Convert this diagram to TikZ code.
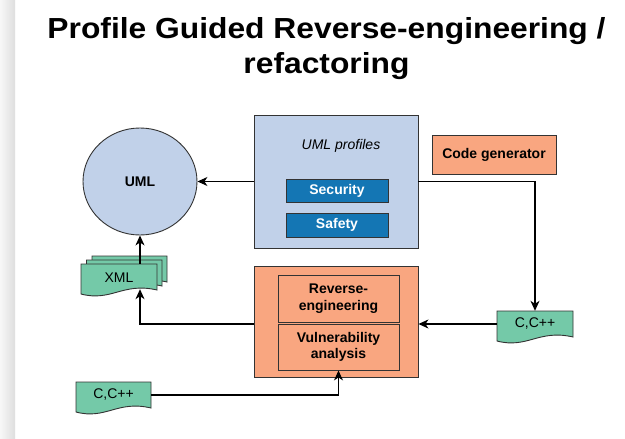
\documentclass[tikz,border=0pt]{standalone}
\usepackage{fontspec}
\setmainfont{Liberation Sans}
\usetikzlibrary{arrows.meta,shapes.geometric,calc}
\definecolor{lblue}{RGB}{193,209,233}
\definecolor{dblue}{RGB}{20,118,180}
\definecolor{salmon}{RGB}{249,166,128}
\definecolor{dgreen}{RGB}{116,201,168}
\definecolor{bord}{RGB}{51,51,51}
\newcommand{\docshape}[5]{% x y w h fill
  \filldraw[fill=#5,draw=bord,line width=0.9pt]
    (#1,#2) -- ({#1+#3},#2) -- ({#1+#3},{#2+#4-5})
    .. controls ({#1+0.55*#3},{#2+#4-13}) and ({#1+0.4*#3},{#2+#4+7}) .. (#1,{#2+#4-1}) -- cycle;}
\begin{document}
\begin{tikzpicture}[x=1pt,y=-1pt,
  box/.style={draw=bord,line width=0.9pt,rectangle,inner sep=0pt},
  lbl/.style={font=\fontsize{14}{16}\selectfont},
  blbl/.style={font=\bfseries\fontsize{14}{16.5}\selectfont},
  ttl/.style={font=\bfseries\fontsize{29}{35}\selectfont,anchor=base,inner sep=0pt},
  arr/.style={line width=1.2pt,-{Stealth[length=10pt,width=9pt,inset=3pt]}},
  conn/.style={line width=1.2pt}]
\useasboundingbox (0,0) rectangle (625,439);
\fill[white] (0,0) rectangle (625,439);
\shade[left color=white!97!black,right color=black!13] (0,0) rectangle (15,439);
% title
\node[ttl] (title1) at (326.5,38) {\scalebox{1.096}[1]{Profile Guided Reverse-engineering /}};
\node[ttl] (title2) at (326.5,73) {\scalebox{1.096}[1]{refactoring}};
% UML ellipse
\node[ellipse,draw=bord,line width=0.9pt,fill=lblue,minimum width=114pt,minimum height=107pt,inner sep=0pt,blbl] (uml) at (140,181.5) {UML};
% UML profiles box
\node[box,fill=lblue,minimum width=164pt,minimum height=133pt] (prof) at (336,181.5) {};
\node[font=\itshape\fontsize{14}{16}\selectfont] (proft) at (341,146) {UML profiles};
\node[box,fill=dblue,minimum width=102pt,minimum height=23pt,blbl,text=white] (sec) at (337,190.5) {Security};
\node[box,fill=dblue,minimum width=102pt,minimum height=24pt,blbl,text=white] (saf) at (337,225) {Safety};
% code generator
\node[box,fill=salmon,minimum width=124pt,minimum height=39pt,blbl] (cg) at (494,154.5) {Code generator};
% reverse box
\node[box,fill=salmon,minimum width=164pt,minimum height=111pt] (rev) at (336,321.5) {};
\node[box,fill=salmon,minimum width=121pt,minimum height=47pt,blbl,align=center] (re) at (338.5,298.5) {Reverse-\\engineering};
\node[box,fill=salmon,minimum width=121pt,minimum height=46pt,blbl,align=center] (vuln) at (338.5,347) {Vulnerability\\analysis};
% documents
\docshape{92}{256}{75}{31}{dgreen}
\docshape{86.5}{260}{75.5}{31}{dgreen}
\docshape{81}{264}{76}{31}{dgreen}
\node[minimum width=76pt,minimum height=27pt,inner sep=0pt,lbl] (xml) at (119,277.5) {XML};
\docshape{497}{311}{76}{31}{dgreen}
\node[minimum width=76pt,minimum height=26pt,inner sep=0pt,lbl] (cpp1) at (535,324) {C,C++};
\docshape{76}{382}{75}{31}{dgreen}
\node[minimum width=75pt,minimum height=26pt,inner sep=0pt,lbl] (cpp2) at (113.5,395) {C,C++};
% connectors
\draw[arr] (prof.west) -- (uml.east);
\draw[arr] (prof.east) -| (cpp1.north);
\draw[arr] (cpp1.west) -- (rev.east |- cpp1.west);
\draw[arr] (uml.south |- xml.north) -- (uml.south);
\draw[arr] (rev.west |- cpp1.west) -| ($(uml.south |- xml.south)+(0,-2)$);
\draw[arr] (cpp2.east) -| (vuln.south);
\end{tikzpicture}
\end{document}
